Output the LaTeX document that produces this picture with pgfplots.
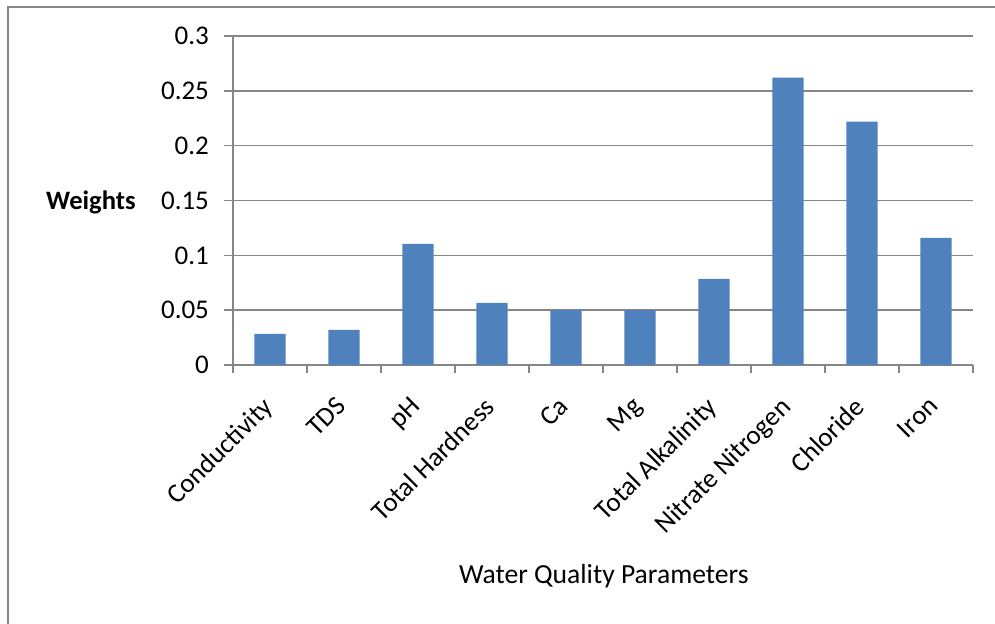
\documentclass[border=0pt]{standalone}
\usepackage{pgfplots}
\pgfplotsset{compat=1.18}
\usepackage{fontspec}
\setmainfont{Carlito}
\definecolor{barblue}{HTML}{4F81BD}
\definecolor{gridgray}{HTML}{868686}
\begin{document}
\begin{tikzpicture}
\useasboundingbox (0pt,0pt) rectangle (497.5pt,-311.5pt);
\draw[gridgray, line width=1.1pt] (4pt,-320pt) -- (4pt,-3.5pt) -- (510pt,-3.5pt);
\begin{axis}[
  at={(116.5pt,-182.5pt)}, anchor=south west,
  scale only axis, width=370pt, height=164.5pt,
  ybar, bar width=0.42,
  xmin=-0.5, xmax=9.5, ymin=0, ymax=0.3,
  ytick={0,0.05,...,0.3},
  yticklabels={0,0.05,0.1,0.15,0.2,0.25,0.3},
  xtick={0,...,9},
  xticklabels={Conductivity,TDS,pH,Total Hardness,Ca,Mg,Total Alkalinity,Nitrate Nitrogen,Chloride,Iron},
  minor xtick={-0.5,0.5,...,9.5},
  major x tick style={draw=none},
  minor x tick style={gridgray, line width=0.75pt},
  axis lines*=left,
  axis line style={gridgray, line width=0.75pt},
  ymajorgrids, grid style={gridgray, line width=0.75pt},
  tick align=outside,
  major tick length=4.5pt, minor tick length=4pt,
  ytick style={gridgray, line width=0.75pt},
  tick label style={font=\fontsize{13.5}{15}\selectfont, text=black},
  yticklabel style={xshift=-4pt},
  xticklabel style={xshift=-4.5pt, yshift=-10.5pt, rotate=45, anchor=north east, inner sep=0pt},
  ylabel={Weights},
  ylabel style={rotate=-90, anchor=center, at={(axis description cs:-0.192,0.495)}, font=\fontsize{13.3}{15}\selectfont\bfseries},
  xlabel={Water Quality Parameters},
  xlabel style={anchor=center, at={(axis description cs:0.501,-0.641)}, font=\fontsize{13.8}{15}\selectfont},
]
\addplot[fill=barblue, draw=none] coordinates {
 (0,0.0283) (1,0.032) (2,0.1105) (3,0.0566) (4,0.050)
 (5,0.050) (6,0.0786) (7,0.262) (8,0.222) (9,0.116)};
\end{axis}
\end{tikzpicture}
\end{document}
